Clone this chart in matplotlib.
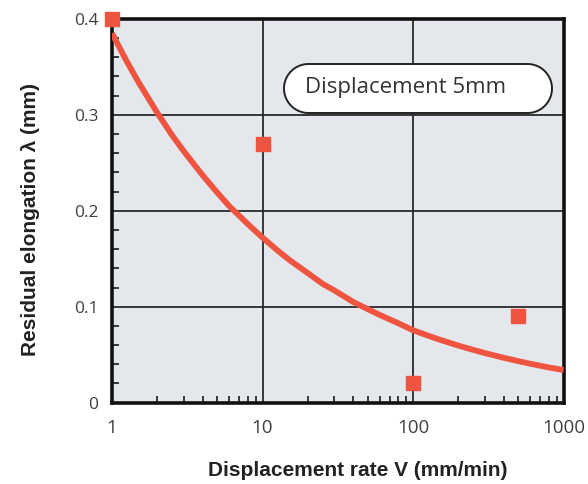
import numpy as np
import matplotlib
matplotlib.use("Agg")
import matplotlib.pyplot as plt
from matplotlib.ticker import FixedLocator, MultipleLocator, LogLocator, NullFormatter
from matplotlib.patches import Polygon

# measured residual elongation
rate_pts = [1, 10, 100, 500]
elong_pts = [0.40, 0.27, 0.02, 0.09]

# trend curve
rate_curve = [1, 1.25, 1.5, 2, 2.5, 3, 4, 5, 6, 8, 10, 12.5, 15, 20, 25, 30, 40, 50, 60, 80,
              100, 125, 150, 200, 250, 300, 400, 500, 600, 800, 1000]
elong_curve = [0.385, 0.356, 0.334, 0.302, 0.279, 0.262, 0.237, 0.219, 0.205, 0.186,
               0.172, 0.159, 0.149, 0.135, 0.124, 0.117, 0.105, 0.0975, 0.0915, 0.0827,
               0.0755, 0.0700, 0.0657, 0.0595, 0.0551, 0.0517, 0.0468, 0.0433, 0.0406,
               0.0367, 0.0340]

x_ticks = [1, 10, 100, 1000]
x_ticklabels = ["1", "10", "100", "1000"]
y_ticks = [0, 0.1, 0.2, 0.3, 0.4]
y_ticklabels = ["0", "0.1", "0.2", "0.3", "0.4"]

red = "#ee5440"
tick_font = "Open Sans"

fig = plt.figure(figsize=(5.88, 4.84), dpi=100)
ax = fig.add_axes([0.1905, 0.168, 0.768, 0.793])
ax.set_facecolor("#e4e7eb")

ax.set_xscale("log")
ax.set_xlim(1, 1000)
ax.set_ylim(0, 0.4)

ax.grid(True, which="major", color="#2a2a2a", linewidth=1.3)
ax.set_axisbelow(True)

ax.plot(rate_curve, elong_curve, color=red, linewidth=4.2, solid_capstyle="butt", zorder=3)
ax.plot(rate_pts, elong_pts, linestyle="none", marker="s", markersize=9.5,
        color=red, clip_on=False, zorder=4)

ax.xaxis.set_major_locator(FixedLocator(x_ticks))
ax.set_xticklabels(x_ticklabels, family=tick_font, fontsize=13.5)
ax.xaxis.set_minor_locator(LogLocator(base=10, subs=range(2, 10)))
ax.xaxis.set_minor_formatter(NullFormatter())
ax.yaxis.set_major_locator(FixedLocator(y_ticks))
ax.set_yticklabels(y_ticklabels, family=tick_font, fontsize=12.5)
ax.yaxis.set_minor_locator(MultipleLocator(0.02))

ax.tick_params(which="major", length=0, labelcolor="#404040")
ax.tick_params(axis="x", which="major", pad=12)
ax.tick_params(axis="y", which="major", pad=10)
ax.tick_params(which="minor", direction="in", length=5, width=1.2, color="#1a1a1a")
ax.tick_params(axis="x", which="minor", top=False)
ax.tick_params(axis="y", which="minor", right=False)

for s in ax.spines.values():
    s.set_linewidth(2.6)
    s.set_color("#111111")

ax.set_xlabel("Displacement rate V (mm/min)", family="Liberation Sans", fontweight="bold",
              fontsize=15, color="#222222", va="center")
ax.xaxis.set_label_coords(0.544, -0.176)
ax.set_ylabel("Residual elongation \u03bb (mm)", family="Liberation Sans", fontweight="bold",
              fontsize=15, color="#222222", va="center")
ax.yaxis.set_label_coords(-0.181, 0.476)

# pill-shaped label box (semicircular ends), laid out in inches
x0, x1, y0, y1 = 2.84, 5.52, 3.71, 4.20
r = (y1 - y0) / 2
yc = (y0 + y1) / 2
t_right = np.linspace(-np.pi / 2, np.pi / 2, 40)
t_left = np.linspace(np.pi / 2, 3 * np.pi / 2, 40)
outline = np.vstack([
    np.column_stack([x1 - r + r * np.cos(t_right), yc + r * np.sin(t_right)]),
    np.column_stack([x0 + r + r * np.cos(t_left), yc + r * np.sin(t_left)]),
])
pill = Polygon(outline, closed=True, transform=fig.dpi_scale_trans, facecolor="white",
               edgecolor="#222222", linewidth=1.4, zorder=5)
ax.add_patch(pill)
ax.text(0.427, 0.822, "Displacement 5mm", transform=ax.transAxes, family=tick_font,
        fontsize=16, color="#333333", ha="left", va="center", zorder=6)

fig.savefig("out.png", dpi=100)
